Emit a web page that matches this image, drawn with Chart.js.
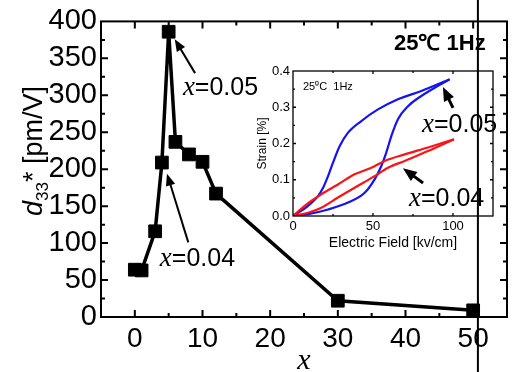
<!DOCTYPE html>
<html>
<head>
<meta charset="utf-8">
<script src="https://cdn.jsdelivr.net/npm/chart.js@4.4.1/dist/chart.umd.min.js"></script>
<style>
    body { margin: 0; background: #fff; }
    #wrap { position: relative; width: 517px; height: 372px; }
    #mainChart { position: absolute; left: 0; top: 0; z-index: 2; }
    #insetChart { position: absolute; left: 250px; top: 60px; z-index: 1; }
</style>
</head>
<body>
<div id="wrap">
    <canvas id="mainChart" width="517" height="372"></canvas>
    <canvas id="insetChart" width="260" height="195"></canvas>
</div>
<script>
// main plot: d33* vs x
const mainX = [0, 1, 3, 4, 5, 6, 8, 10, 12, 30, 50];
const mainD33 = [64, 63, 116, 209, 386, 237, 220, 210, 167, 22, 9];
const mainXTicks = [0, 10, 20, 30, 40, 50];
const mainYTicks = [0, 50, 100, 150, 200, 250, 300, 350, 400];

// inset: strain loops (field in kV/cm, strain in %)
const field05Up = [0, 9.4, 21.9, 34.4, 44.8, 51, 55.2, 58.3, 61.5, 65.6, 71.9, 80.2, 90.6, 97.9];
const strain05Up = [0, 0.005, 0.018, 0.037, 0.064, 0.101, 0.138, 0.175, 0.221, 0.267, 0.303, 0.331, 0.359, 0.377];
const field05Down = [97.9, 80.2, 65.6, 53.1, 42.7, 34.4, 29.2, 25, 21.9, 18.8, 15.6, 9.4, 0];
const strain05Down = [0.377, 0.345, 0.322, 0.294, 0.262, 0.23, 0.193, 0.147, 0.11, 0.078, 0.055, 0.028, 0];
const field04Up = [0, 9.4, 17.7, 28.1, 38.5, 51, 59.4, 69.8, 84.4, 100.6];
const strain04Up = [0, 0.009, 0.023, 0.051, 0.078, 0.11, 0.133, 0.152, 0.179, 0.2115];
const field04Down = [100.6, 84.4, 69.8, 57.3, 49, 38.5, 28.1, 17.7, 7.3, 0];
const strain04Down = [0.2115, 0.189, 0.17, 0.152, 0.133, 0.115, 0.087, 0.06, 0.028, 0];
const insetXTicks = [0, 50, 100];
const insetYTicks = [0, 0.1, 0.2, 0.3, 0.4];

const NARROW = '"Liberation Sans Narrow", "Liberation Sans", Arial, sans-serif';
const SERIF = '"Liberation Serif", "DejaVu Serif", serif';

function pairs(xs, ys) {
    let out = [];
    for (let i = 0; i < xs.length; i++) {
        out[i] = { x: xs[i], y: ys[i] };
    }
    return out;
}

function arrow(ctx, x1, y1, x2, y2, head, lw) {
    const a = Math.atan2(y2 - y1, x2 - x1);
    ctx.save();
    ctx.strokeStyle = '#000';
    ctx.fillStyle = '#000';
    ctx.lineWidth = lw;
    ctx.beginPath();
    ctx.moveTo(x1, y1);
    ctx.lineTo(x2 - Math.cos(a) * head * 0.7, y2 - Math.sin(a) * head * 0.7);
    ctx.stroke();
    ctx.beginPath();
    ctx.moveTo(x2, y2);
    ctx.lineTo(x2 - head * Math.cos(a - 0.38), y2 - head * Math.sin(a - 0.38));
    ctx.lineTo(x2 - head * Math.cos(a + 0.38), y2 - head * Math.sin(a + 0.38));
    ctx.closePath();
    ctx.fill();
    ctx.restore();
}

// "x=0.05" style label, left edge at x, vertical middle at y
function xLabel(ctx, txt, x, y, size) {
    ctx.save();
    ctx.fillStyle = '#000';
    ctx.textBaseline = 'alphabetic';
    ctx.textAlign = 'left';
    const base = y + size * 0.36;
    ctx.font = 'italic ' + (size + 2) + 'px ' + SERIF;
    ctx.fillText('x', x, base);
    const w = ctx.measureText('x').width;
    ctx.font = size + 'px ' + NARROW;
    ctx.fillText(txt, x + w, base);
    ctx.restore();
}

function frameAndTicks(ctx, area, xs, ys, xMajor, xMinor, yMajor, yMinor, lenMaj, lenMin, lw) {
    ctx.save();
    ctx.strokeStyle = '#000';
    ctx.lineWidth = lw;
    ctx.strokeRect(area.left, area.top, area.right - area.left, area.bottom - area.top);
    ctx.beginPath();
    const tick = (v, len, horiz) => {
        if (horiz) {
            const p = xs.getPixelForValue(v);
            if (p <= area.left + 1 || p >= area.right - 1) return;
            ctx.moveTo(p, area.bottom); ctx.lineTo(p, area.bottom - len);
            ctx.moveTo(p, area.top); ctx.lineTo(p, area.top + len);
        } else {
            const p = ys.getPixelForValue(v);
            if (p <= area.top + 1 || p >= area.bottom - 1) return;
            ctx.moveTo(area.left, p); ctx.lineTo(area.left + len, p);
            ctx.moveTo(area.right, p); ctx.lineTo(area.right - len, p);
        }
    };
    xMajor.forEach(v => tick(v, lenMaj, true));
    xMinor.forEach(v => tick(v, lenMin, true));
    yMajor.forEach(v => tick(v, lenMaj, false));
    yMinor.forEach(v => tick(v, lenMin, false));
    ctx.stroke();
    ctx.restore();
}

const mainDecor = {
    id: 'mainDecor',
    afterDraw(chart) {
        const ctx = chart.ctx;
        const area = chart.chartArea;
        const xs = chart.scales.x;
        const ys = chart.scales.y;
        frameAndTicks(ctx, area, xs, ys, mainXTicks, [5, 15, 25, 35, 45],
            mainYTicks, [25, 75, 125, 175, 225, 275, 325, 375], 7, 4, 2);

        // y title: d33* [pm/V]
        ctx.save();
        ctx.fillStyle = '#000';
        ctx.translate(33, 151);
        ctx.rotate(-Math.PI / 2);
        ctx.textBaseline = 'alphabetic';
        ctx.font = 'italic 27px ' + NARROW;
        const wD = ctx.measureText('d').width;
        ctx.font = '17px ' + NARROW;
        const wS = ctx.measureText('33').width;
        ctx.font = '27px ' + NARROW;
        const rest = '* [pm/V]';
        const wR = ctx.measureText(rest).width;
        let x0 = -(wD + wS + wR) / 2;
        const base = 9;
        ctx.font = 'italic 27px ' + NARROW;
        ctx.fillText('d', x0, base);
        ctx.font = '17px ' + NARROW;
        ctx.fillText('33', x0 + wD, base + 6);
        ctx.font = '27px ' + NARROW;
        ctx.fillText(rest, x0 + wD + wS, base);
        ctx.restore();

        // x title
        ctx.save();
        ctx.fillStyle = '#000';
        ctx.font = 'italic 30px ' + SERIF;
        ctx.textAlign = 'center';
        ctx.textBaseline = 'alphabetic';
        ctx.fillText('x', (area.left + area.right) / 2, 369);
        ctx.restore();

        // annotations
        arrow(ctx, xs.getPixelForValue(8.9), ys.getPixelForValue(330),
            xs.getPixelForValue(5.9), ys.getPixelForValue(376), 13, 2);
        xLabel(ctx, '=0.05', xs.getPixelForValue(7.1), ys.getPixelForValue(312), 25);
        arrow(ctx, xs.getPixelForValue(7.9), ys.getPixelForValue(101),
            xs.getPixelForValue(4.75), ys.getPixelForValue(194), 13, 2);
        xLabel(ctx, '=0.04', xs.getPixelForValue(3.7), ys.getPixelForValue(81), 25);

        ctx.save();
        ctx.fillStyle = '#000';
        ctx.font = 'bold 22px ' + NARROW;
        ctx.textAlign = 'left';
        ctx.textBaseline = 'middle';
        ctx.fillText('25\u2103 1Hz', area.right - 113, area.top + 23);
        ctx.restore();

        // vertical line across the whole figure
        ctx.save();
        ctx.strokeStyle = '#000';
        ctx.lineWidth = 2;
        const vx = xs.getPixelForValue(50.7);
        ctx.beginPath();
        ctx.moveTo(vx, 0);
        ctx.lineTo(vx, chart.height);
        ctx.stroke();
        ctx.restore();
    }
};

const insetDecor = {
    id: 'insetDecor',
    afterDraw(chart) {
        const ctx = chart.ctx;
        const area = chart.chartArea;
        const xs = chart.scales.x;
        const ys = chart.scales.y;
        frameAndTicks(ctx, area, xs, ys, insetXTicks, [25, 75, 125],
            insetYTicks, [0.05, 0.15, 0.25, 0.35], 3, 2, 1.3);

        ctx.save();
        ctx.fillStyle = '#000';
        ctx.font = '11px ' + NARROW;
        ctx.textBaseline = 'middle';
        ctx.fillText('25\u2070C  1Hz', area.left + 10, area.top + 16);

        ctx.font = '14px ' + NARROW;
        ctx.textAlign = 'center';
        ctx.fillText('Electric Field [kv/cm]', (area.left + area.right) / 2, area.bottom + 27);

        ctx.translate(13, (area.top + area.bottom) / 2);
        ctx.rotate(-Math.PI / 2);
        ctx.font = '12px ' + NARROW;
        ctx.fillText('Strain [%]', 0, 0);
        ctx.restore();

        arrow(ctx, xs.getPixelForValue(100), ys.getPixelForValue(0.298),
            xs.getPixelForValue(93.7), ys.getPixelForValue(0.356), 15, 3);
        xLabel(ctx, '=0.05', xs.getPixelForValue(80.6), ys.getPixelForValue(0.257), 25);
        arrow(ctx, xs.getPixelForValue(81.3), ys.getPixelForValue(0.091),
            xs.getPixelForValue(68.7), ys.getPixelForValue(0.132), 15, 3);
        xLabel(ctx, '=0.04', xs.getPixelForValue(72.5), ys.getPixelForValue(0.052), 25);
    }
};

function mainChart() {
    const ctx = document.getElementById('mainChart');
    new Chart(ctx, {
        type: 'line',
        data: {
            datasets: [{
                data: pairs(mainX, mainD33),
                borderColor: '#000',
                backgroundColor: '#000',
                borderWidth: 3.5,
                pointStyle: 'rect',
                pointRadius: 9,
                pointBorderWidth: 1,
                tension: 0
            }]
        },
        options: {
            responsive: false,
            animation: false,
            devicePixelRatio: 1,
            layout: { padding: { top: 20, right: 10, left: 0, bottom: 0 } },
            plugins: { legend: { display: false }, tooltip: { enabled: false } },
            scales: {
                x: {
                    type: 'linear',
                    min: -5, max: 55,
                    afterFit: (s) => { s.height = 55; },
                    afterBuildTicks: (s) => { s.ticks = mainXTicks.map(v => ({ value: v })); },
                    grid: { display: false, drawTicks: false },
                    border: { display: false },
                    ticks: {
                        padding: 5, maxRotation: 0, autoSkip: false,
                        color: '#000', font: { family: NARROW, size: 28 }
                    }
                },
                y: {
                    min: 0, max: 400,
                    afterFit: (s) => { s.width = 101; },
                    afterBuildTicks: (s) => { s.ticks = mainYTicks.map(v => ({ value: v })); },
                    grid: { display: false, drawTicks: false },
                    border: { display: false },
                    ticks: {
                        padding: 4, autoSkip: false,
                        color: '#000', font: { family: NARROW, size: 29 }
                    }
                }
            }
        },
        plugins: [mainDecor]
    });
}

function insetChart() {
    const ctx = document.getElementById('insetChart');
    const blue = 'rgb(20, 20, 240)';
    const red = 'rgb(250, 20, 20)';
    const line = (data, color) => ({
        data: data,
        borderColor: color,
        borderWidth: 2.2,
        pointRadius: 0,
        showLine: true,
        cubicInterpolationMode: 'monotone'
    });
    new Chart(ctx, {
        type: 'scatter',
        data: {
            datasets: [
                line(pairs(field04Up, strain04Up), red),
                line(pairs(field04Down, strain04Down), red),
                line(pairs(field05Up, strain05Up), blue),
                line(pairs(field05Down, strain05Down), blue)
            ]
        },
        options: {
            responsive: false,
            animation: false,
            devicePixelRatio: 1,
            layout: { padding: { top: 11, right: 17, left: 0, bottom: 0 } },
            plugins: { legend: { display: false }, tooltip: { enabled: false } },
            scales: {
                x: {
                    min: 0, max: 125,
                    afterFit: (s) => { s.height = 39; },
                    afterBuildTicks: (s) => { s.ticks = insetXTicks.map(v => ({ value: v })); },
                    grid: { display: false, drawTicks: false },
                    border: { display: false },
                    ticks: {
                        padding: 3, maxRotation: 0, autoSkip: false,
                        color: '#000', font: { family: NARROW, size: 13 }
                    }
                },
                y: {
                    min: 0, max: 0.4,
                    afterFit: (s) => { s.width = 43; },
                    afterBuildTicks: (s) => { s.ticks = insetYTicks.map(v => ({ value: v })); },
                    grid: { display: false, drawTicks: false },
                    border: { display: false },
                    ticks: {
                        padding: 3, autoSkip: false,
                        color: '#000', font: { family: NARROW, size: 13 },
                        callback: (v) => v.toFixed(1)
                    }
                }
            }
        },
        plugins: [insetDecor]
    });
}

mainChart();
insetChart();
</script>
</body>
</html>
